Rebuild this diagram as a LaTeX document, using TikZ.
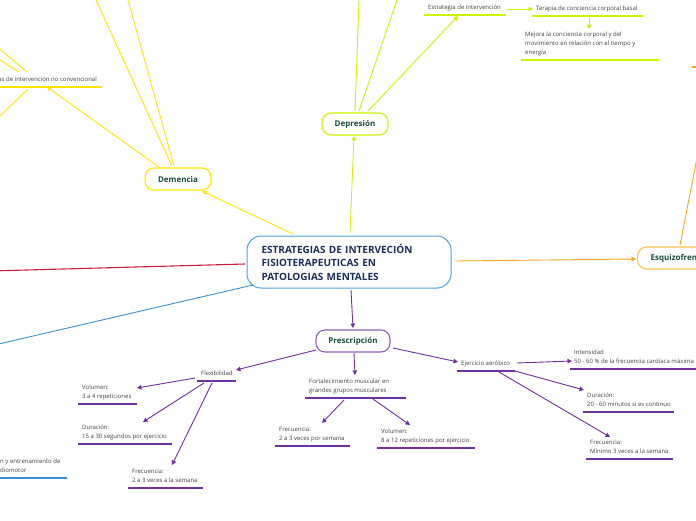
\documentclass[tikz,border=0pt]{standalone}
\usepackage{fontspec}
\newfontfamily\osans{Open Sans}
\usetikzlibrary{arrows.meta}
\definecolor{cyel}{RGB}{255,230,0}
\definecolor{clime}{RGB}{208,242,0}
\definecolor{corange}{RGB}{255,166,30}
\definecolor{corangeb}{RGB}{255,190,80}
\definecolor{cpurple}{RGB}{112,48,160}
\definecolor{cpurpleb}{RGB}{140,96,180}
\definecolor{cblue}{RGB}{60,143,204}
\definecolor{cblueb}{RGB}{80,163,220}
\definecolor{cred}{RGB}{200,30,60}
\definecolor{ctitle}{RGB}{27,75,59}
\definecolor{croot}{RGB}{28,45,90}
\definecolor{cleaf}{RGB}{64,64,64}
\begin{document}
\begin{tikzpicture}[x=1pt,y=-1pt,
  topic/.style={draw, rounded corners=9pt, line width=1.1pt, minimum height=22pt,
    font=\osans\bfseries\fontsize{8}{9}\selectfont, text=ctitle, inner sep=0pt},
  rootbox/.style={draw=cblueb, rounded corners=14pt, line width=1pt, minimum height=52pt,
    text width=175pt, inner xsep=14.5pt, align=left, text=croot,
    font=\osans\bfseries\fontsize{10}{13.5}\selectfont},
  leaf/.style={anchor=south west, inner xsep=4pt, inner ysep=0pt, text depth=5pt, align=left,
    text=cleaf, font=\osans\fontsize{6}{9}\selectfont},
  ul/.style={line width=1.2pt},
  conn/.style={line width=0.9pt},
  arr/.style={conn, -{Triangle[length=4.5pt,width=4.5pt]}}
]
\useasboundingbox (0,0) rectangle (696,520);
\clip (0,0) rectangle (696,520);

% ---------- main nodes ----------
\node[rootbox, minimum width=204pt] (root) at (349,262) {ESTRATEGIAS DE INTERVECIÓN\\FISIOTERAPEUTICAS EN\\PATOLOGIAS MENTALES};
\node[topic, draw=cyel, minimum width=66pt] (dem) at (178,179) {Demencia};
\node[topic, draw=clime, minimum width=66pt] (dep) at (355,124) {Depresión};
\node[topic, draw=cpurpleb, minimum width=74pt] (pres) at (353,341) {Prescripción};
\node[topic, draw=corangeb, anchor=west, inner xsep=13pt] (esq) at (637,258) {Esquizofrenia};

% ---------- leaves ----------
\node[leaf, anchor=south east, inner xsep=5pt] (strat) at (102,87) {Estrategias de intervención no convencional};
\draw[ul, cyel] (-10,87) -- (102,87);

\node[leaf] (estr) at (424,15) {Estrategia de intervención};
\draw[ul, clime] (424,15) -- (506,15);
\node[leaf] (ter) at (532,16) {Terapia de conciencia corporal basal};
\draw[ul, clime] (532,16) -- (643,16);
\node[leaf] (mej) at (521,60) {Mejora la conciencia corporal y del\\movimiento en relación con el tiempo y\\energía};
\draw[ul, clime] (521,60) -- (659,60);

\node[leaf] (flex) at (197,381) {Flexibilidad};
\draw[ul, cpurple] (197,381) -- (236,381);
\node[leaf] (vol1) at (78,404) {Volumen:\\3 a 4 repeticiones};
\draw[ul, cpurple] (78,404) -- (137,404);
\node[leaf] (dur1) at (78,444) {Duración:\\15 a 30 segundos por ejercicio};
\draw[ul, cpurple] (78,444) -- (172,444);
\node[leaf] (frec1) at (128,488) {Frecuencia:\\2 a 3 veces a la semana};
\draw[ul, cpurple] (128,488) -- (203,488);

\node[leaf] (fort) at (305,398) {Fortalecimiento muscular en\\grandes grupos musculares};
\draw[ul, cpurple] (305,398) -- (406,398);
\node[leaf] (frec2) at (275,446) {Frecuencia:\\2 a 3 veces por semana};
\draw[ul, cpurple] (275,446) -- (350,446);
\node[leaf] (vol2) at (377,448) {Volumen:\\8 a 12 repeticiones por ejercicio};
\draw[ul, cpurple] (377,448) -- (475,448);

\node[leaf] (aer) at (457,371) {Ejercicio aeróbico};
\draw[ul, cpurple] (457,371) -- (515,371);
\node[leaf] (int) at (570,369) {Intensidad\\50 - 60 \% de la frecuencia cardíaca máxima};
\draw[ul, cpurple] (570,369) -- (700,369);
\node[leaf] (dur2) at (583,412) {Duración:\\20 - 60 minutos si es continuo};
\draw[ul, cpurple] (583,412) -- (674,412);
\node[leaf] (frec3) at (586,459) {Frecuencia:\\Mínimo 3 veces a la semana};
\draw[ul, cpurple] (586,459) -- (673,459);

\node[leaf, inner xsep=0pt] (coord) at (0,478) {n y entrenamiento de\\diomotor};
\draw[ul, cblue] (-10,478) -- (67,478);

% ---------- connector end points ----------
\coordinate (rA) at (293,234);  \coordinate (dA) at (202,191);
\coordinate (rB) at (350,233);  \coordinate (pB) at (354,136);
\coordinate (rC) at (455,261);  \coordinate (eC) at (636,259);
\coordinate (rD) at (351,290);  \coordinate (pD) at (353,328);
\coordinate (rE) at (245,264);  \coordinate (xE) at (-10,271);
\coordinate (rF) at (253,285);  \coordinate (xF) at (-10,346);

\coordinate (d1) at (172,166);  \coordinate (x1) at (91.4,-10);
\coordinate (d2) at (174,166);  \coordinate (x2) at (125.2,-10);
\coordinate (d3) at (159,167);  \coordinate (s3) at (47,87);
\coordinate (s4) at (27,72);    \coordinate (x4) at (-10,40.5);
\coordinate (s5) at (19,72);    \coordinate (x5) at (-10,53.7);
\coordinate (s6) at (28,89);    \coordinate (x6) at (-10,125.6);

\coordinate (p1) at (355,111);  \coordinate (y1) at (359.4,-10);
\coordinate (p2) at (359,111);  \coordinate (y2) at (400.4,-10);
\coordinate (p3) at (368,111);  \coordinate (e3) at (458,16);
\coordinate (e4) at (507,9);    \coordinate (t4) at (533,9);
\coordinate (t5) at (589,18);   \coordinate (m5) at (589,29);

\coordinate (q1) at (680,245);  \coordinate (z1) at (698,153);
\coordinate (z2) at (692,67);   \coordinate (z3) at (700,67);

\coordinate (pr1) at (316,350); \coordinate (f1) at (236,370);
\coordinate (f2) at (195,378);  \coordinate (v2) at (137,388);
\coordinate (f3) at (204,383);  \coordinate (u3) at (143,422);
\coordinate (f4) at (212,383);  \coordinate (k4) at (172,465);
\coordinate (pr5) at (354,353); \coordinate (o5) at (355,375);
\coordinate (o6) at (344,400);  \coordinate (k6) at (322,423);
\coordinate (o7) at (373,399);  \coordinate (v7) at (410,425);
\coordinate (pr8) at (393,348); \coordinate (a8) at (458,362);
\coordinate (a9) at (517,363);  \coordinate (i9) at (572,361);
\coordinate (a10) at (515,371); \coordinate (u10) at (584,390);
\coordinate (a11) at (499,372); \coordinate (k11) at (610,437);

% ---------- connectors ----------
\draw[arr, cyel] (rA) -- (dA);
\draw[conn, cyel] (d1) -- (x1);
\draw[conn, cyel] (d2) -- (x2);
\draw[arr, cyel] (d3) -- (s3);
\draw[conn, cyel] (s4) -- (x4);
\draw[conn, cyel] (s5) -- (x5);
\draw[conn, cyel] (s6) -- (x6);

\draw[arr, clime] (rB) -- (pB);
\draw[conn, clime] (p1) -- (y1);
\draw[conn, clime] (p2) -- (y2);
\draw[arr, clime] (p3) -- (e3);
\draw[arr, clime] (e4) -- (t4);
\draw[arr, clime] (t5) -- (m5);

\draw[arr, corange] (rC) -- (eC);
\draw[conn, corange] (q1) -- (z1);
\draw[ul, corange] (z2) -- (z3);

\draw[conn, cred, line width=1.1pt] (rE) -- (xE);
\draw[conn, cblue] (rF) -- (xF);

\draw[arr, cpurple] (rD) -- (pD);
\draw[arr, cpurple] (pr1) -- (f1);
\draw[arr, cpurple] (f2) -- (v2);
\draw[arr, cpurple] (f3) -- (u3);
\draw[arr, cpurple] (f4) -- (k4);
\draw[arr, cpurple] (pr5) -- (o5);
\draw[arr, cpurple] (o6) -- (k6);
\draw[arr, cpurple] (o7) -- (v7);
\draw[arr, cpurple] (pr8) -- (a8);
\draw[arr, cpurple] (a9) -- (i9);
\draw[arr, cpurple] (a10) -- (u10);
\draw[arr, cpurple] (a11) -- (k11);
\end{tikzpicture}
\end{document}
